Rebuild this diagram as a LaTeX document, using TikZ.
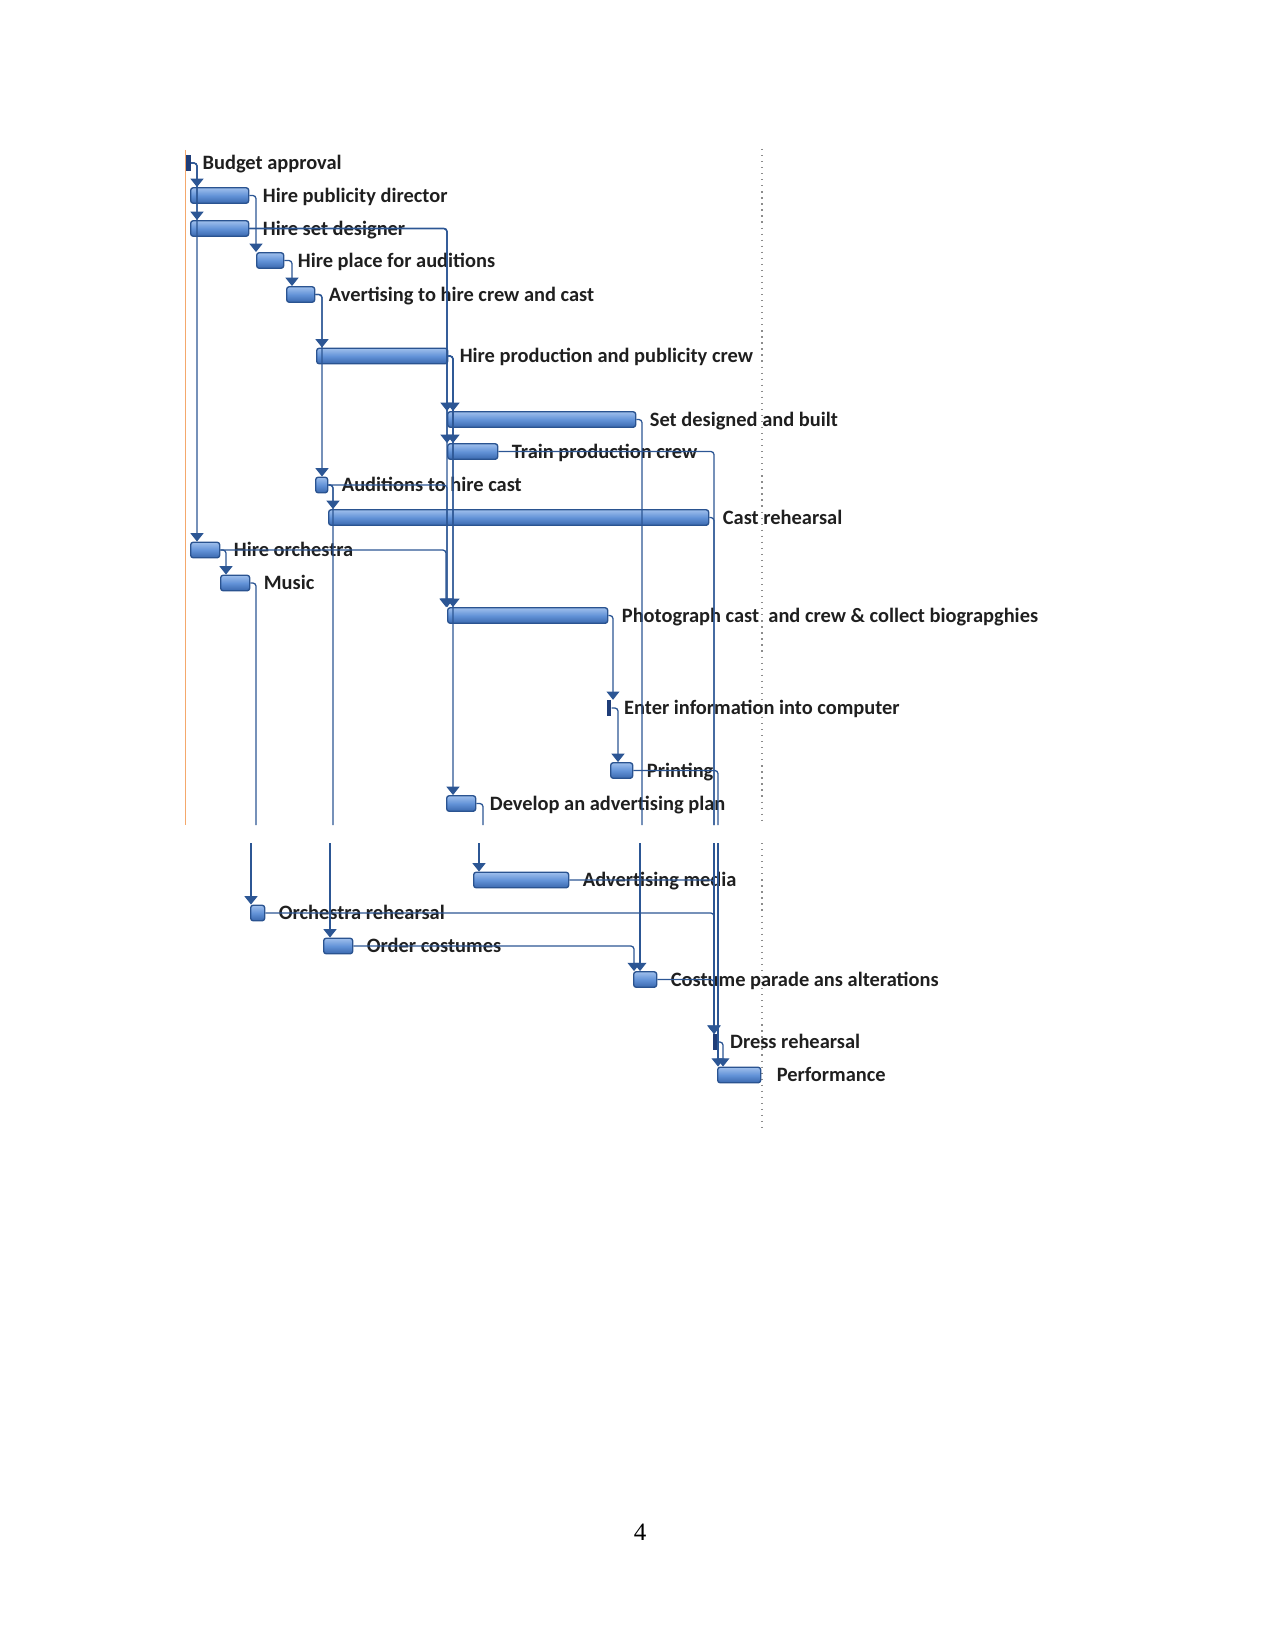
\documentclass[tikz,border=0pt]{standalone}
\usepackage{fontspec}
\setmainfont{Carlito}
\newfontfamily\pagenumfont{Liberation Serif}
\usepackage{tikz}
\usetikzlibrary{positioning, arrows.meta}
\definecolor{barblue}{HTML}{6393D8}
\definecolor{bartop}{HTML}{9FBFEC}
\definecolor{barbot}{HTML}{3A68AE}
\definecolor{barline}{HTML}{2A5390}
\definecolor{linkblue}{HTML}{2C5694}
\definecolor{msblue}{HTML}{1F3D78}
\definecolor{todayorange}{HTML}{F4A86C}
\definecolor{gridgray}{HTML}{8C8C8C}
\newcommand{\px}{0.48pt}
\tikzset{
    bar/.style={draw=barline, line width=0.65pt, rounded corners=1.2pt,
        top color=bartop, bottom color=barbot, middle color=barblue,
        anchor=west, inner sep=0pt, minimum height=15.5*\px},
    mstone/.style={fill=msblue, inner sep=0pt, minimum width=4.5*\px, minimum height=15.5*\px},
    lbl/.style={font=\bfseries\fontsize{9.8}{11}\selectfont, text=black!88,
        inner sep=0pt, text height=6.3pt, text depth=0pt},
    link/.style={draw=linkblue, line width=0.62pt, rounded corners=1.5pt,
        -{Triangle[width=6.2pt,length=4pt]}},
    linkcut/.style={draw=linkblue, line width=0.62pt, rounded corners=1.5pt},
}

\begin{document}
\begin{tikzpicture}[x=\px, y=-\px, node distance=6.3pt]
    \useasboundingbox (0,0) rectangle (1275,1651);
    \coordinate (cut) at (0,825);
    \coordinate (resume) at (0,843);

    % timeline marks
    \draw[todayorange, line width=0.7pt] (185.5,150) -- (185.5,0 |- cut);
    \draw[gridgray, line width=0.6pt, dash pattern=on 0.6pt off 2.3pt]
        (762,149) -- (762,0 |- cut) (762,0 |- resume) -- (762,1128);

    % tasks
    \node[mstone] (bud) at (188.5,163) {};
    \node[bar, minimum width=58*\px] (pub) at (190,195.5) {};
    \node[bar, minimum width=58*\px] (set) at (190,228.5) {};
    \node[bar, minimum width=27*\px] (place) at (256,260.5) {};
    \node[bar, minimum width=28*\px] (adv) at (286,294.5) {};
    \node[bar, minimum width=131*\px] (crew) at (316,356) {};
    \node[bar, minimum width=188*\px] (built) at (447,419.5) {};
    \node[bar, minimum width=50*\px] (train) at (447,451.5) {};
    \node[bar, minimum width=12*\px] (aud) at (315,485) {};
    \node[bar, minimum width=380*\px] (cast) at (328,517.5) {};
    \node[bar, minimum width=29*\px] (orch) at (190,550) {};
    \node[bar, minimum width=29*\px] (music) at (220,583) {};
    \node[bar, minimum width=160*\px] (photo) at (447,615.5) {};
    \node[mstone] (enter) at (609,708) {};
    \node[bar, minimum width=22*\px] (print) at (610,770.5) {};
    \node[bar, minimum width=29*\px] (plan) at (446,803.5) {};
    \node[bar, minimum width=95*\px] (media) at (473,880) {};
    \node[bar, minimum width=14*\px] (orchreh) at (250,913) {};
    \node[bar, minimum width=29*\px] (costumes) at (323,946) {};
    \node[bar, minimum width=23*\px] (parade) at (633,979.5) {};
    \node[mstone] (dress) at (715,1042) {};
    \node[bar, minimum width=43*\px] (perf) at (717,1075) {};

    \node[lbl, right=5.3pt of bud] (budT) {Budget approval};
    \node[lbl, right=of pub] (pubT) {Hire publicity director};
    \node[lbl, right=of set] (setT) {Hire set designer};
    \node[lbl, right=of place] (placeT) {Hire place for auditions};
    \node[lbl, right=of adv] (advT) {Avertising to hire crew and cast};
    \node[lbl, right=5.3pt of crew] (crewT) {Hire production and publicity crew};
    \node[lbl, right=of built] (builtT) {Set designed and built};
    \node[lbl, right=of train] (trainT) {Train production crew};
    \node[lbl, right=of aud] (audT) {Auditions to hire cast};
    \node[lbl, right=of cast] (castT) {Cast rehearsal};
    \node[lbl, right=of orch] (orchT) {Hire orchestra};
    \node[lbl, right=of music] (musicT) {Music};
    \node[lbl, right=of photo] (photoT) {Photograph cast~~and crew \& collect biograpghies};
    \node[lbl, right=5.8pt of enter] (enterT) {Enter information into computer};
    \node[lbl, right=of print] (printT) {Printing};
    \node[lbl, right=of plan] (planT) {Develop an advertising plan};
    \node[lbl, right=of media] (mediaT) {Advertising media};
    \node[lbl, right=of orchreh] (orchrehT) {Orchestra rehearsal};
    \node[lbl, right=of costumes] (costumesT) {Order costumes};
    \node[lbl, right=of parade] (paradeT) {Costume parade ans alterations};
    \node[lbl, right=5.8pt of dress] (dressT) {Dress rehearsal};
    \node[lbl, right=7.2pt of perf] (perfT) {Performance};

    % links
    \draw[link] (bud.east) -| (197,0 |- pub.north);
    \draw[link] (bud.east) -| (197,0 |- set.north);
    \draw[link] (bud.east) -| (197,0 |- orch.north);
    \draw[link] (pub.east) -| (256,0 |- place.north);
    \draw[link] (place.east) -| (292,0 |- adv.north);
    \draw[link] (adv.east) -| (322,0 |- crew.north);
    \draw[link] (adv.east) -| (322,0 |- aud.north);
    \draw[link] (set.east) -| (447,0 |- built.north);
    \draw[link] (set.east) -| (447,0 |- train.north);
    \draw[link] (set.east) -| (447,0 |- photo.north);
    \draw[link] (crew.east) -| (453,0 |- built.north);
    \draw[link] (crew.east) -| (453,0 |- train.north);
    \draw[link] (crew.east) -| (453,0 |- photo.north);
    \draw[link] (crew.east) -| (453,0 |- plan.north);
    \draw[link] (aud.east) -| (333,0 |- cast.north);
    \draw[link] (aud.east) -| (447,0 |- photo.north);
    \draw[link] (orch.east) -| (446,0 |- photo.north);
    \draw[link] (orch.east) -| (226,0 |- music.north);
    \draw[link] (photo.east) -| (613,0 |- enter.north);
    \draw[link] (enter.east) -| (618,0 |- print.north);

    % links running over the page break
    \draw[linkcut] (aud.east) -| (333,0 |- cut);
    \draw[link] (330,0 |- resume) -- (330,0 |- costumes.north);
    \draw[linkcut] (music.east) -| (256,0 |- cut);
    \draw[link] (251,0 |- resume) -- (251,0 |- orchreh.north);
    \draw[linkcut] (plan.east) -| (483,0 |- cut);
    \draw[link] (479,0 |- resume) -- (479,0 |- media.north);
    \draw[linkcut] (built.east) -| (642,0 |- cut);
    \draw[link] (640,0 |- resume) -- (640,0 |- parade.north);
    \draw[linkcut] (train.east) -| (714,0 |- cut);
    \draw[linkcut] (cast.east) -| (714,0 |- cut);
    \draw[link] (714,0 |- resume) -- (714,0 |- dress.north);
    \draw[linkcut] (print.east) -| (718,0 |- cut);
    \draw[link] (718,0 |- resume) -- (718,0 |- perf.north);

    \draw[link] (media.east) -| (714,0 |- dress.north);
    \draw[link] (orchreh.east) -| (714,0 |- dress.north);
    \draw[link] (costumes.east) -| (634,0 |- parade.north);
    \draw[link] (parade.east) -| (714,0 |- dress.north);
    \draw[link] (dress.east) -| (723,0 |- perf.north);

    \node[font=\pagenumfont\fontsize{12}{14}\selectfont] (pagenum) at (640,1532) {4};
\end{tikzpicture}
\end{document}
